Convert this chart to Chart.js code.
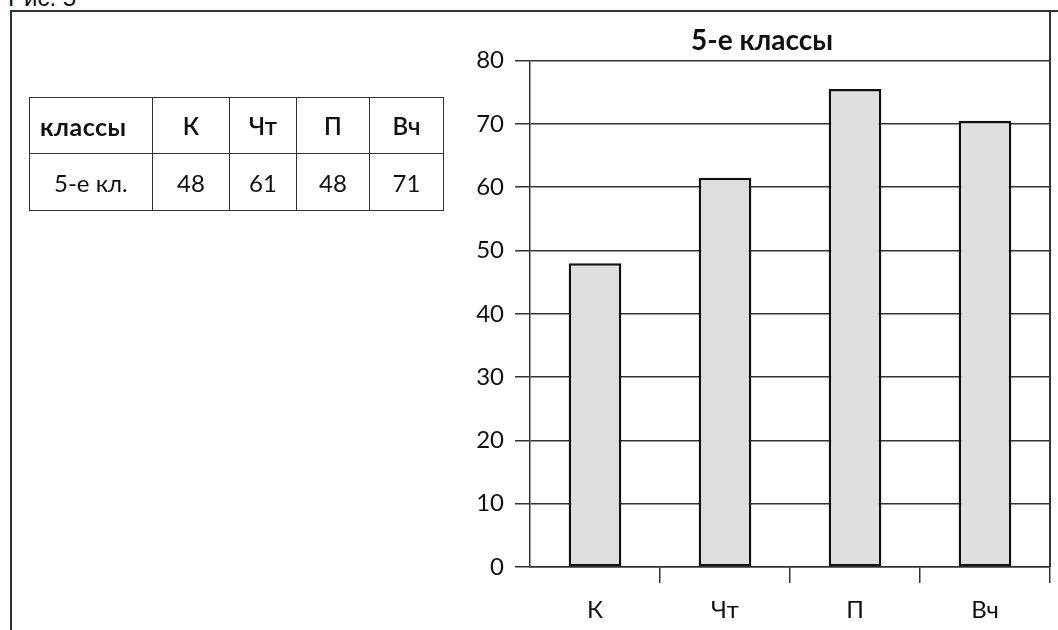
<!DOCTYPE html>
<html lang="ru">
<head>
<meta charset="utf-8">
<script src="https://cdn.jsdelivr.net/npm/chart.js@4.4.1/dist/chart.umd.min.js"></script>
<style>
  html, body { margin: 0; padding: 0; background: #fff; }
  body { width: 1058px; height: 630px; position: relative; overflow: hidden; font-family: "Lato", "DejaVu Sans", sans-serif; }
  #caption { position: absolute; left: 8px; top: -14px; font: 24px "Liberation Sans", Arial, sans-serif; line-height: 24px; color: #111; white-space: nowrap; }
  #frameTop { position: absolute; left: 10px; top: 10px; width: 1048px; height: 0; border-top: 2px solid #333; }
  #frameLeft { position: absolute; left: 10px; top: 10px; width: 0; height: 620px; border-left: 2px solid #333; }
  #chartBox { position: absolute; left: 0; top: 0; width: 1058px; height: 630px; }
  #dataTable { position: absolute; left: 29px; top: 97px; border-collapse: collapse; color: #111; }
  #dataTable td { border: 1.5px solid #333; padding: 0; text-align: center; font-family: "Lato", "DejaVu Sans", sans-serif; }
  #dataTable tr.head td { height: 55px; font-size: 24px; font-weight: 600; }
  #dataTable tr.head td.rowname { font-size: 25px; font-weight: 700; text-align: left; padding-left: 10px; letter-spacing: 0.5px; }
  #dataTable tr.vals td { height: 56px; font-size: 24px; font-weight: 400; }
  #dataTable tr.vals td.rowname { font-size: 24px; text-align: left; padding-left: 24px; }
</style>
</head>
<body>
<div id="caption">Рис. 5</div>
<div id="frameTop"></div>
<div id="frameLeft"></div>
<div id="chartBox"><canvas id="chart" width="1058" height="630"></canvas></div>
<table id="dataTable">
  <tr class="head"><td class="rowname" style="width:112px"></td></tr>
  <tr class="vals"><td class="rowname"></td></tr>
</table>
<script>
// Days of the week shown on the axis
const categories = ['К', 'Чт', 'П', 'Вч'];
// Bar heights for the 5th grade
const barValues = [48, 61.5, 75.5, 70.5];
// Numbers printed in the summary table
const tableRowName = '5-е кл.';
const tableHeader = 'классы';
const tableValues = [48, 61, 48, 71];
// Value axis ticks
const yTicks = [0, 10, 20, 30, 40, 50, 60, 70, 80];

// Fill the summary table
(function buildTable() {
  const colWidths = [76, 66, 72, 73];
  const head = document.querySelector('#dataTable tr.head');
  const vals = document.querySelector('#dataTable tr.vals');
  head.querySelector('.rowname').textContent = tableHeader;
  vals.querySelector('.rowname').textContent = tableRowName;
  categories.forEach((c, i) => {
    const th = document.createElement('td');
    th.textContent = c;
    th.style.width = colWidths[i] + 'px';
    head.appendChild(th);
    const td = document.createElement('td');
    td.textContent = tableValues[i];
    vals.appendChild(td);
  });
})();

// Right-hand border line of the chart panel
const panelEdge = {
  id: 'panelEdge',
  afterDraw(chart) {
    const { ctx, chartArea } = chart;
    ctx.save();
    ctx.strokeStyle = '#333';
    ctx.lineWidth = 2;
    ctx.beginPath();
    ctx.moveTo(chartArea.right, 10);
    ctx.lineTo(chartArea.right, chartArea.bottom);
    ctx.stroke();
    ctx.restore();
  }
};

const axisFont = { family: 'Lato, "DejaVu Sans", sans-serif', size: 24, weight: '400' };

new Chart(document.getElementById('chart'), {
  type: 'bar',
  data: {
    labels: categories,
    datasets: [{
      data: barValues,
      backgroundColor: '#dedede',
      borderColor: '#111',
      borderWidth: 2.5,
      borderSkipped: false,
      categoryPercentage: 1,
      barPercentage: 0.405
    }]
  },
  options: {
    responsive: false,
    animation: false,
    events: [],
    layout: { padding: { left: 474, right: 8, top: 0, bottom: 0 } },
    plugins: {
      legend: { display: false },
      tooltip: { enabled: false },
      title: {
        display: true,
        text: '5-е классы',
        color: '#111',
        font: { family: 'Lato, "DejaVu Sans", sans-serif', size: 28, weight: 'bold' },
        padding: { top: 24, bottom: 3 }
      }
    },
    scales: {
      x: {
        afterFit(scale) { scale.height = 63; },
        grid: {
          offset: true,
          drawOnChartArea: false,
          drawTicks: true,
          tickLength: 16,
          // no separator mark under the value axis itself
          color: ctx => (ctx.index === 0 ? 'rgba(0,0,0,0)' : '#333'),
          lineWidth: 1.5
        },
        border: { display: true, color: '#333', width: 1.5 },
        ticks: { color: '#111', padding: 13, font: axisFont }
      },
      y: {
        min: 0,
        max: 80,
        afterBuildTicks(scale) { scale.ticks = yTicks.map(v => ({ value: v })); },
        afterFit(scale) { scale.width = 56; },
        grid: {
          color: '#333',
          lineWidth: 1.5,
          drawTicks: true,
          tickLength: 15
        },
        border: { display: true, color: '#333', width: 1.5 },
        ticks: { color: '#111', padding: 11, font: axisFont }
      }
    }
  },
  plugins: [panelEdge]
});
</script>
</body>
</html>
